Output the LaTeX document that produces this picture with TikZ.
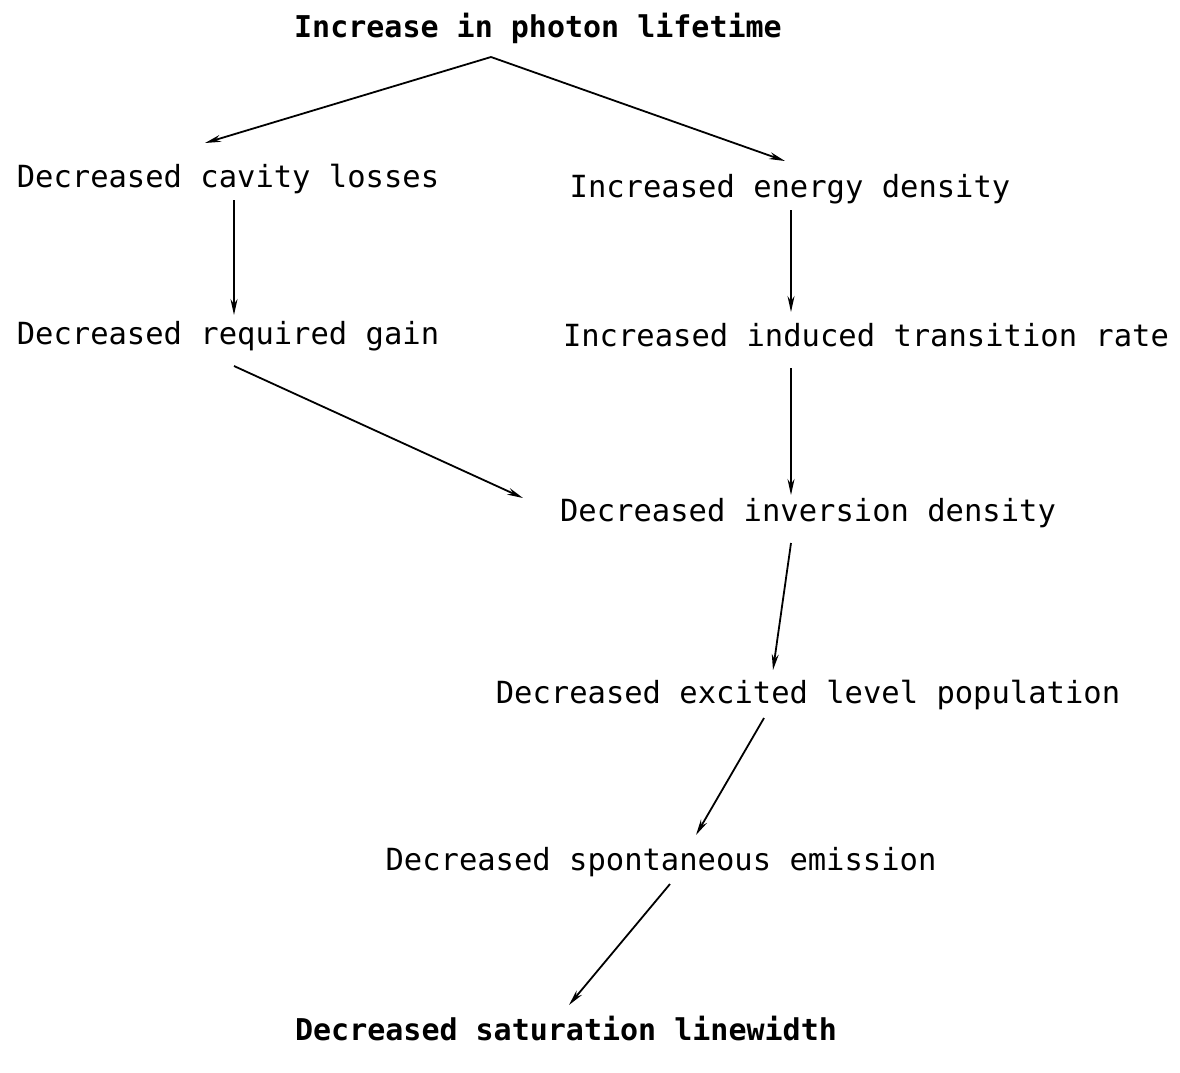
\documentclass[tikz,border=0pt]{standalone}
\usepackage{fontspec}
\setmonofont{DejaVu Sans Mono}
\usetikzlibrary{arrows.meta}
\tikzset{
  step label/.style={anchor=base,inner sep=0pt,text height=20pt,text depth=6pt,font=\ttfamily\fontsize{30.5}{36}\selectfont,text=black},
  end label/.style={step label,font=\ttfamily\bfseries\fontsize{30}{36}\selectfont},
  arrow/.style={-{Stealth[length=16pt,width=7pt]},line width=1.8pt,draw=black}
}
\begin{document}
\begin{tikzpicture}[x=1pt,y=-1pt]
  \useasboundingbox (0,0) rectangle (1180,1072);

  % cause-and-effect chain
  \node[end label]  (title)  at (538,37)   {Increase in photon lifetime};
  \node[step label] (cavity) at (228,187)  {Decreased cavity losses};
  \node[step label] (energy) at (790,197)  {Increased energy density};
  \node[step label] (gain)   at (228,344)  {Decreased required gain};
  \node[step label] (induce) at (866,346)  {Increased induced transition rate};
  \node[step label] (invert) at (808,521)  {Decreased inversion density};
  \node[step label] (excite) at (808,703)  {Decreased excited level population};
  \node[step label] (spont)  at (661,870)  {Decreased spontaneous emission};
  \node[end label]  (width)  at (566,1040) {Decreased saturation linewidth};

  % arrows, offsets from each label's base point
  \foreach \s/\ds/\t/\dt in {title/{-47,20}/cavity/{-23,-44},
                             title/{-47,20}/energy/{-5,-36},
                             cavity/{6,13}/gain/{6,-29},
                             energy/{1,13}/induce/{-75,-34},
                             gain/{6,22}/invert/{-285,-23},
                             induce/{-75,22}/invert/{-17,-26},
                             invert/{-17,22}/excite/{-35,-33},
                             excite/{-44,15}/spont/{35,-35},
                             spont/{9,14}/width/{3,-35}}{
    \draw[arrow] ([shift={(\ds)}]\s.base) -- ([shift={(\dt)}]\t.base);
  }
\end{tikzpicture}
\end{document}
